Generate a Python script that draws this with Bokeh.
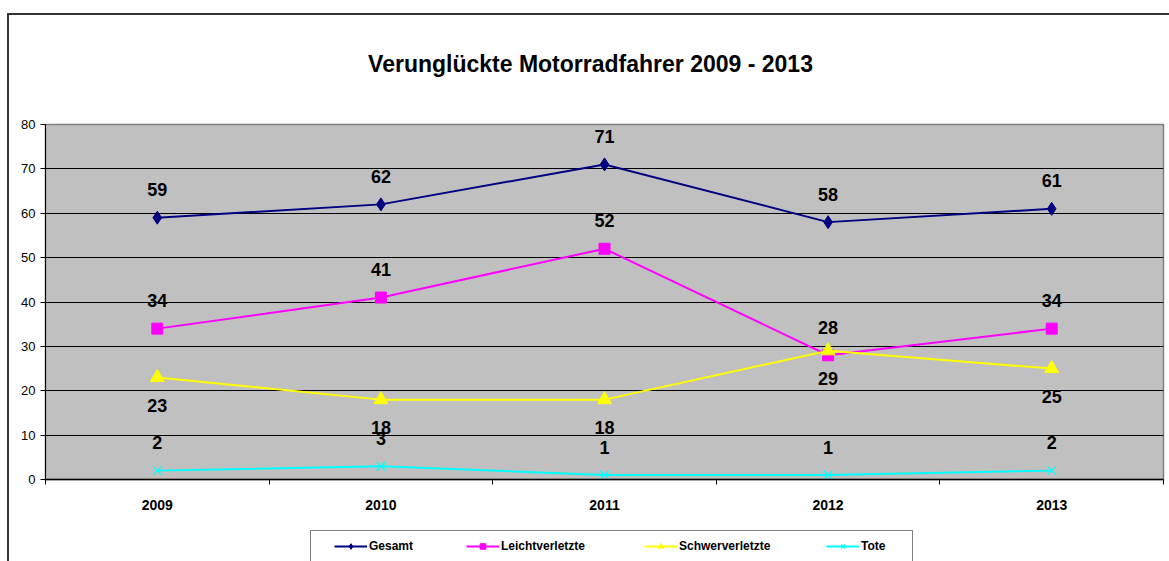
from bokeh.plotting import figure
from bokeh.layouts import column
from bokeh.models import (ColumnDataSource, FixedTicker, Legend, LegendItem, Range1d, Label)
from bokeh.core.properties import value
from bokeh.embed import file_html
from bokeh.resources import INLINE

years = ["2009", "2010", "2011", "2012", "2013"]
gesamt = [59, 62, 71, 58, 61]
leicht = [34, 41, 52, 28, 34]
schwer = [23, 18, 18, 29, 25]
tote = [2, 3, 1, 1, 2]
series_names = ["Gesamt", "Leichtverletzte", "Schwerverletzte", "Tote"]
title_text = "Verunglückte Motorradfahrer 2009 - 2013"

FONT = "Liberation Sans"
xs = [i + 0.5 for i in range(len(years))]


def blank_fig(h):
    f = figure(width=1160, height=h, output_backend="svg", toolbar_location=None,
               x_range=Range1d(0, 1), y_range=Range1d(0, 1),
               x_axis_type=None, y_axis_type=None,
               min_border_left=0, min_border_right=0, min_border_top=0, min_border_bottom=0)
    f.outline_line_color = None
    f.background_fill_color = "white"
    f.border_fill_color = "white"
    f.xgrid.visible = False
    f.ygrid.visible = False
    return f


# title panel
tf = blank_fig(95)
tf.add_layout(Label(x=545, y=47, x_units="screen", y_units="screen", text=title_text,
                    text_font=FONT, text_font_style="bold", text_font_size="23px",
                    text_align="center", text_baseline="middle", text_color="black"))

# main chart
p = figure(width=1160, height=410, output_backend="svg", toolbar_location=None,
           x_range=Range1d(0, 5), y_range=Range1d(0, 80),
           min_border_left=36, min_border_right=6, min_border_top=14, min_border_bottom=41)
p.background_fill_color = "#C0C0C0"
p.border_fill_color = "white"
p.outline_line_color = "#808080"
p.outline_line_width = 1.5

p.xaxis.ticker = FixedTicker(ticks=xs, minor_ticks=[0, 1, 2, 3, 4, 5])
p.xaxis.major_label_overrides = {x: y for x, y in zip(xs, years)}
p.xaxis.major_tick_out = 0
p.xaxis.major_tick_in = 0
p.xaxis.minor_tick_out = 5
p.xaxis.minor_tick_in = 0
p.xaxis.minor_tick_line_color = "black"
p.xaxis.axis_line_color = "black"
p.xaxis.axis_line_width = 1.5
p.xaxis.major_label_text_font = FONT
p.xaxis.major_label_text_font_style = "bold"
p.xaxis.major_label_text_font_size = "14px"
p.xaxis.major_label_text_color = "black"
p.xaxis.major_label_standoff = 15

p.yaxis.ticker = FixedTicker(ticks=list(range(0, 81, 10)), minor_ticks=[])
p.yaxis.major_tick_out = 5
p.yaxis.major_tick_in = 0
p.yaxis.axis_line_color = "black"
p.yaxis.major_tick_line_color = "black"
p.yaxis.major_label_text_font = FONT
p.yaxis.major_label_text_font_size = "13px"
p.yaxis.major_label_text_color = "black"
p.yaxis.major_label_standoff = 5

p.xgrid.visible = False
p.ygrid.ticker = FixedTicker(ticks=list(range(10, 80, 10)))
p.ygrid.grid_line_color = "black"
p.ygrid.grid_line_width = 1

colors = ["#000080", "#FF00FF", "#FFFF00", "#00FFFF"]
markers = ["diamond", "square", "triangle", "x"]
sizes = [13, 11, 14, 12]
data = [gesamt, leicht, schwer, tote]
offsets = [-28, -28, 28, -28]


def draw(fig, src, c, m, s):
    r1 = fig.line("x", "y", source=src, line_color=c, line_width=2)
    if m == "x":
        r2 = fig.scatter("x", "y", source=src, marker=m, size=s, line_color=c, line_width=1.3)
    else:
        r2 = fig.scatter("x", "y", source=src, marker=m, size=s, fill_color=c, line_color=c)
    return [r1, r2]


for vals, c, m, s in zip(data, colors, markers, sizes):
    draw(p, ColumnDataSource(dict(x=xs, y=vals)), c, m, s)

for vals, off in zip(data, offsets):
    src = ColumnDataSource(dict(x=xs, y=vals, t=[str(v) for v in vals]))
    p.text("x", "y", text="t", source=src, y_offset=off, text_align="center",
           text_baseline="middle", text_font=value(FONT), text_font_style="bold",
           text_font_size="18px", text_color="black")

# legend panel
lf = blank_fig(41)
box_dummy = lf.line(x=[-10, -9], y=[-10, -9], line_alpha=0)
box = Legend(items=[LegendItem(label=" ", renderers=[box_dummy])], location=(265, -3),
             padding=9, margin=0, glyph_width=27, glyph_height=14, label_standoff=2,
             label_height=14, label_width=554, border_line_color="black",
             border_line_width=1, background_fill_alpha=0)
lf.add_layout(box, "center")

leg_x = [289, 421, 599, 781]
for name, c, m, s, lx in zip(series_names, colors, markers, sizes, leg_x):
    rs = draw(lf, ColumnDataSource(dict(x=[-10, -9], y=[-10, -9])), c, m, min(s, 11))
    lg = Legend(items=[LegendItem(label=name, renderers=rs)], location=(lx, 8),
                padding=0, margin=0, spacing=0,
                glyph_width=33, glyph_height=14, label_standoff=2, label_height=14,
                label_text_font=FONT, label_text_font_style="bold",
                label_text_font_size="12px", label_text_color="black",
                border_line_alpha=0, background_fill_alpha=0)
    lf.add_layout(lg, "center")

layout = column(tf, p, lf, spacing=0,
                styles={"margin-left": "7px", "margin-top": "13px",
                        "border-left": "2px solid #333333", "border-top": "2px solid #333333"})

open("out.html", "w").write(file_html(layout, INLINE))
